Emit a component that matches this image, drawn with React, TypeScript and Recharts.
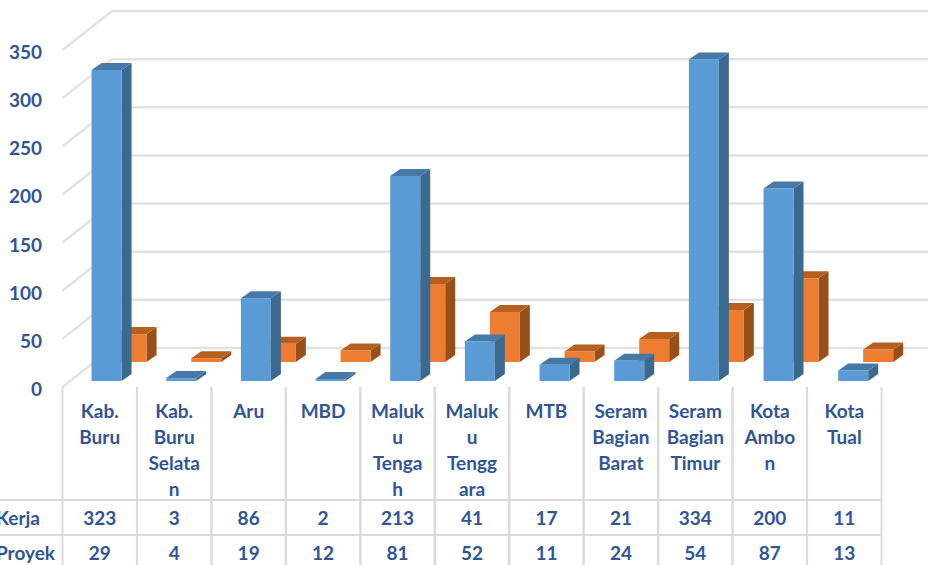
import { BarChart, Bar, XAxis, YAxis, CartesianGrid } from 'recharts';

const categories = ['Kab. Buru', 'Kab. Buru Selatan', 'Aru', 'MBD', 'Maluku Tengah', 'Maluku Tenggara', 'MTB', 'Seram Bagian Barat', 'Seram Bagian Timur', 'Kota Ambon', 'Kota Tual'];
// how the table cells wrap the names
const categoryLines = [
  ['Kab.', 'Buru'],
  ['Kab.', 'Buru', 'Selata', 'n'],
  ['Aru'],
  ['MBD'],
  ['Maluk', 'u', 'Tenga', 'h'],
  ['Maluk', 'u', 'Tengg', 'ara'],
  ['MTB'],
  ['Seram', 'Bagian', 'Barat'],
  ['Seram', 'Bagian', 'Timur'],
  ['Kota', 'Ambo', 'n'],
  ['Kota', 'Tual'],
];
const kerja = [323, 3, 86, 2, 213, 41, 17, 21, 334, 200, 11];
const proyek = [29, 4, 19, 12, 81, 52, 11, 24, 54, 87, 13];
const yTicks = [0, 50, 100, 150, 200, 250, 300, 350];

const chartData = categories.map((name, i) => ({ name, kerja: kerja[i], proyek: proyek[i] }));

const WIDTH = 928;
const HEIGHT = 565;
const LEFT = 62.5;
const RIGHT = 881.5;
const BAND = (RIGHT - LEFT) / categories.length;
const TEXT = '#2F5597';
const LINE = '#DADADA';
const FONT = 'Lato, sans-serif';

// fake 3D: front face plus top and side faces
function Block({ x, y, width, height, dx, dy, front, top, side }: any) {
  // bars drift a little to the right of the table columns, like the perspective in the original
  const l = x + dx + (x - LEFT) * 0.0028;
  const r = l + width;
  const t = y + dy;
  const b = t + height;
  const ox = 10;
  const oy = -7;
  return (
    <g>
      <polygon points={`${r},${t} ${r + ox},${t + oy} ${r + ox},${b + oy} ${r},${b}`} fill={side} />
      <polygon points={`${l},${t} ${l + ox},${t + oy} ${r + ox},${t + oy} ${r},${t}`} fill={top} />
      <rect x={l} y={t} width={width} height={height} fill={front} />
    </g>
  );
}

const BlueBar = (props: any) => <Block {...props} dx={7} dy={0} front="#5B9BD5" top="#4679A8" side="#3B6A90" />;
const OrangeBar = (props: any) => <Block {...props} dx={32} dy={-19} front="#ED7D31" top="#B5601F" side="#98501B" />;

// back wall: line runs from the front edge, along the side, then across the wall
function GridLine({ y1 }: any) {
  return (
    <polyline
      points={`${LEFT},${y1 + 6} 112,${y1 - 33} ${WIDTH},${y1 - 33}`}
      fill="none"
      stroke="#E2E2E2"
      strokeWidth={2.5}
    />
  );
}

function YTick({ y, payload }: any) {
  return (
    <text x={42} y={y + 7.5} textAnchor="end" dominantBaseline="central" fill={TEXT} fontFamily={FONT} fontWeight={700} fontSize={19}>
      {payload.value}
    </text>
  );
}

const cellText = { textAnchor: 'middle', dominantBaseline: 'central', fill: TEXT, fontFamily: FONT, fontWeight: 700, fontSize: 19 } as const;

// the x axis doubles as the data table under the chart
function TableTick({ x, payload, index }: any) {
  const i = index ?? categories.indexOf(payload.value);
  const l = x - BAND / 2;
  const r = x + BAND / 2;
  return (
    <g>
      <line x1={l} x2={l} y1={387} y2={HEIGHT} stroke={LINE} strokeWidth={2} />
      <line x1={r} x2={r} y1={387} y2={HEIGHT} stroke={LINE} strokeWidth={2} />
      <line x1={l} x2={r} y1={500} y2={500} stroke={LINE} strokeWidth={2} />
      <line x1={l} x2={r} y1={535} y2={535} stroke={LINE} strokeWidth={2} />
      {categoryLines[i].map((t, k) => (
        <text key={k} x={x} y={410 + k * 26} {...cellText}>{t}</text>
      ))}
      <text x={x} y={517} {...cellText}>{kerja[i]}</text>
      <text x={x} y={552.5} {...cellText}>{proyek[i]}</text>
      {i === 0 && (
        <g>
          <line x1={0} x2={LEFT} y1={500} y2={500} stroke={LINE} strokeWidth={2} />
          <line x1={0} x2={LEFT} y1={535} y2={535} stroke={LINE} strokeWidth={2} />
          <text x={40} y={517} {...cellText} textAnchor="end">Kerja</text>
          <text x={55} y={552.5} {...cellText} textAnchor="end">Proyek</text>
        </g>
      )}
    </g>
  );
}

export default function App() {
  return (
    <div style={{ position: 'absolute', left: 0, top: 0, width: WIDTH, height: HEIGHT, overflow: 'hidden', background: '#fff' }}>
      <BarChart
        width={WIDTH}
        height={HEIGHT}
        data={chartData}
        barSize={30}
        barGap={-30}
        margin={{ top: 44, right: WIDTH - RIGHT, bottom: 0, left: 0 }}
      >
        <CartesianGrid vertical={false} horizontal={(p: any) => <GridLine key={p.key ?? p.index} {...p} />} />
        <XAxis dataKey="name" height={HEIGHT - 381} interval={0} axisLine={false} tickLine={false} tick={(p: any) => <TableTick {...p} />} />
        <YAxis width={LEFT} domain={[0, 350]} ticks={yTicks} axisLine={false} tickLine={false} tick={(p: any) => <YTick {...p} />} />
        {/* orange first: the blue row stands in front of it */}
        <Bar dataKey="proyek" isAnimationActive={false} shape={OrangeBar} />
        <Bar dataKey="kerja" isAnimationActive={false} shape={BlueBar} />
      </BarChart>
    </div>
  );
}
